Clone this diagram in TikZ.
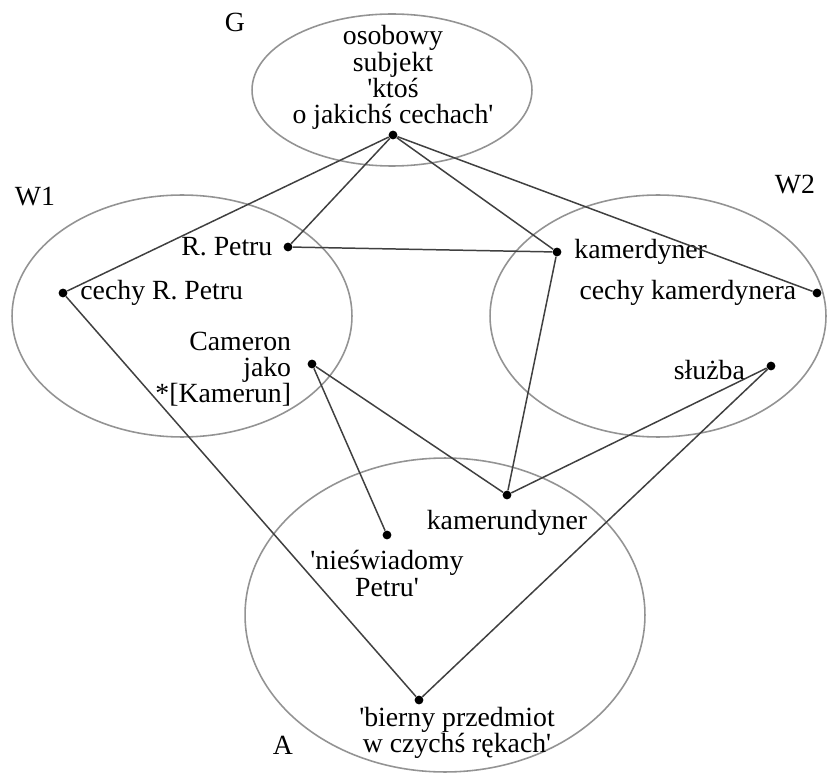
\documentclass[tikz,border=0pt]{standalone}
\usepackage{fontspec}
\setmainfont{Liberation Serif}
\usetikzlibrary{positioning,shapes.geometric}
\tikzset{%
	set/.style   = {draw=gray!85, ellipse, line width=0.9pt, inner sep=0pt}, % ellipse of a space
	dot/.style   = {circle, fill=black, inner sep=0pt, minimum size=5pt},
	lbl/.style   = {inner sep=1pt, font=\fontsize{15.8}{15}\selectfont},
	link/.style  = {draw=black!75, line width=0.85pt},
}
\newcommand{\qs}{\textquotesingle}

\begin{document}
\begin{tikzpicture}[x=0.02cm, y=-0.02cm]
	\useasboundingbox (0,0) rectangle (828,773);
	% spaces
	\node[set, minimum width=5.6cm, minimum height=3.04cm] (G) at (392,90) {};
	\node[set, minimum width=6.8cm, minimum height=4.84cm] (W1) at (182,316) {};
	\node[set, minimum width=6.72cm, minimum height=4.84cm] (W2) at (658,316) {};
	\node[set, minimum width=8cm, minimum height=6.28cm] (A) at (445,615) {};
	\node[lbl] (nG) at (235,22) {G};
	\node[lbl] (nW1) at (35,197) {W1};
	\node[lbl] (nW2) at (795,185) {W2};
	\node[lbl] (nA) at (283,745) {A};
	
	% elements
	\node[dot] (g) at (393,135) {};
	\node[dot] (rp) at (288,247) {};
	\node[dot] (crp) at (63,293) {};
	\node[dot] (cam) at (312,364) {};
	\node[dot] (kd) at (557,252) {};
	\node[dot] (ckd) at (817,293) {};
	\node[dot] (sl) at (771,366) {};
	\node[dot] (kud) at (507,495) {};
	\node[dot] (nsw) at (387,535) {};
	\node[dot] (bp) at (419,700) {};
	
	\node[lbl, align=center, above=-1pt of g] (tg) {osobowy\\subjekt\\\qs{}ktoś\\o jakichś cechach\qs};
	\node[lbl, left=5pt of rp] (trp) {R. Petru};
	\node[lbl, right=6pt of crp] (tcrp) {cechy R. Petru};
	\node[lbl, align=right, left=8pt of cam, yshift=-3pt] (tcam) {Cameron\\jako\\*[Kamerun]};
	\node[lbl, right=6pt of kd] (tkd) {kamerdyner};
	\node[lbl, left=8pt of ckd] (tckd) {cechy kamerdynera};
	\node[lbl, left=11pt of sl, yshift=-2pt] (tsl) {służba};
	\node[lbl, below=5pt of kud] (tkud) {kamerundyner};
	\node[lbl, align=center, below=5pt of nsw] (tnsw) {\qs{}nieświadomy\\Petru\qs};
	\node[lbl, align=center, below=0pt of bp, xshift=0.76cm] (tbp) {\qs{}bierny przedmiot\\w czychś rękach\qs};
	
	\draw[link] (g) -- (crp);
	\draw[link] (g) -- (rp);
	\draw[link] (g) -- (kd);
	\draw[link] (g) -- (ckd);
	\draw[link] (rp) -- (kd);
	\draw[link] (kd) -- (kud);
	\draw[link] (cam) -- (kud);
	\draw[link] (cam) -- (nsw);
	\draw[link] (sl) -- (kud);
	\draw[link] (sl) -- (bp);
	\draw[link] (crp) -- (bp);
\end{tikzpicture}
\end{document}
